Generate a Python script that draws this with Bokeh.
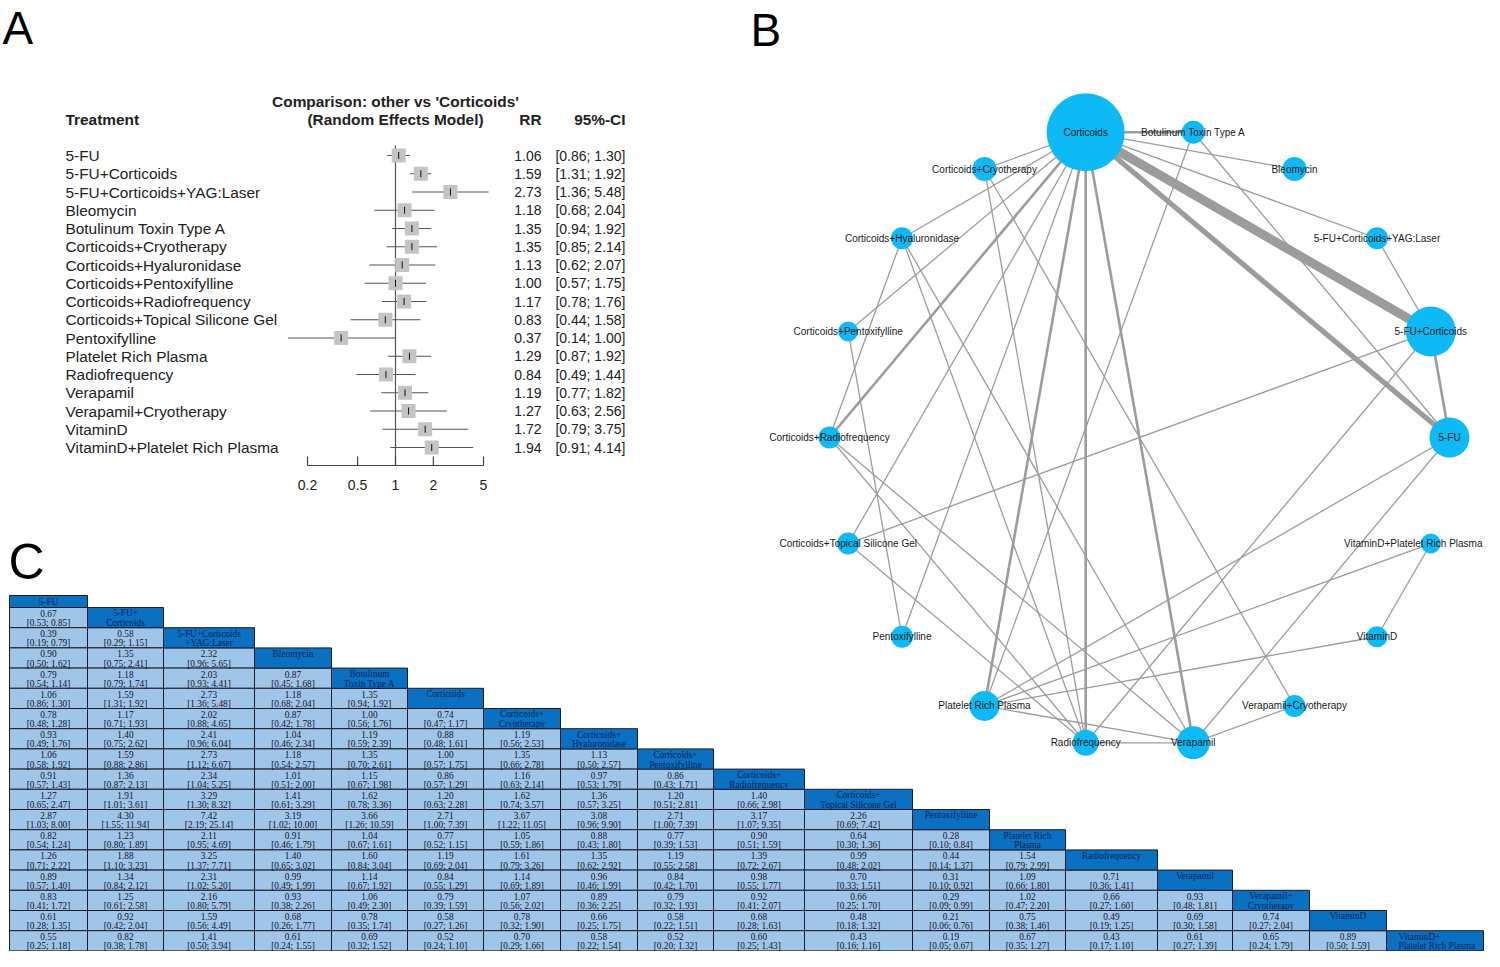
import numpy as np
from bokeh.plotting import figure
from bokeh.models import Range1d, LogScale, ColumnDataSource
from bokeh.embed import file_html
from bokeh.resources import INLINE
from bokeh.core.properties import value

# ---------------- Panel A: forest plot data ----------------
forest_treatments = [
    "5-FU", "5-FU+Corticoids", "5-FU+Corticoids+YAG:Laser", "Bleomycin",
    "Botulinum Toxin Type A", "Corticoids+Cryotherapy", "Corticoids+Hyaluronidase",
    "Corticoids+Pentoxifylline", "Corticoids+Radiofrequency",
    "Corticoids+Topical Silicone Gel", "Pentoxifylline", "Platelet Rich Plasma",
    "Radiofrequency", "Verapamil", "Verapamil+Cryotherapy", "VitaminD",
    "VitaminD+Platelet Rich Plasma"]
forest_rr = [1.06, 1.59, 2.73, 1.18, 1.35, 1.35, 1.13, 1.00, 1.17, 0.83, 0.37, 1.29, 0.84, 1.19, 1.27, 1.72, 1.94]
forest_lo = [0.86, 1.31, 1.36, 0.68, 0.94, 0.85, 0.62, 0.57, 0.78, 0.44, 0.14, 0.87, 0.49, 0.77, 0.63, 0.79, 0.91]
forest_hi = [1.30, 1.92, 5.48, 2.04, 1.92, 2.14, 2.07, 1.75, 1.76, 1.58, 1.00, 1.92, 1.44, 1.82, 2.56, 3.75, 4.14]
forest_ticks = [0.2, 0.5, 1, 2, 5]
forest_tick_labels = ["0.2", "0.5", "1", "2", "5"]

# ---------------- Panel B: network data ----------------
network_nodes = [
    "Corticoids", "Botulinum Toxin Type A", "Bleomycin", "5-FU+Corticoids+YAG:Laser",
    "5-FU+Corticoids", "5-FU", "VitaminD+Platelet Rich Plasma", "VitaminD",
    "Verapamil+Cryotherapy", "Verapamil", "Radiofrequency", "Platelet Rich Plasma",
    "Pentoxifylline", "Corticoids+Topical Silicone Gel", "Corticoids+Radiofrequency",
    "Corticoids+Pentoxifylline", "Corticoids+Hyaluronidase", "Corticoids+Cryotherapy"]
node_radius = [39, 11.5, 12, 11, 25, 20, 10, 10.5, 11, 16.5, 13, 15, 11, 11, 11, 10, 11, 12]
edge_from = [
    "Corticoids", "Corticoids", "Corticoids", "Corticoids", "Corticoids", "Corticoids",
    "Corticoids", "Corticoids", "Corticoids", "Corticoids", "Corticoids", "Corticoids",
    "Corticoids", "Corticoids",
    "5-FU+Corticoids", "5-FU+Corticoids", "5-FU+Corticoids", "5-FU+Corticoids",
    "5-FU", "5-FU", "5-FU", "Botulinum Toxin Type A",
    "VitaminD+Platelet Rich Plasma", "VitaminD+Platelet Rich Plasma", "VitaminD",
    "Verapamil+Cryotherapy", "Verapamil+Cryotherapy",
    "Verapamil", "Verapamil", "Verapamil", "Verapamil",
    "Radiofrequency", "Radiofrequency", "Radiofrequency", "Radiofrequency",
    "Corticoids+Hyaluronidase", "Corticoids+Pentoxifylline"]
edge_to = [
    "Botulinum Toxin Type A", "Bleomycin", "5-FU+Corticoids+YAG:Laser", "5-FU+Corticoids",
    "5-FU", "Corticoids+Cryotherapy", "Corticoids+Hyaluronidase", "Corticoids+Pentoxifylline",
    "Corticoids+Radiofrequency", "Corticoids+Topical Silicone Gel", "Pentoxifylline",
    "Platelet Rich Plasma", "Radiofrequency", "Verapamil",
    "5-FU", "5-FU+Corticoids+YAG:Laser", "Corticoids+Topical Silicone Gel", "Radiofrequency",
    "Botulinum Toxin Type A", "Platelet Rich Plasma", "Verapamil", "Platelet Rich Plasma",
    "VitaminD", "Platelet Rich Plasma", "Platelet Rich Plasma",
    "Verapamil", "Corticoids+Cryotherapy",
    "Radiofrequency", "Platelet Rich Plasma", "Corticoids+Radiofrequency", "Corticoids+Hyaluronidase",
    "Corticoids+Cryotherapy", "Corticoids+Hyaluronidase", "Corticoids+Radiofrequency",
    "Corticoids+Topical Silicone Gel",
    "Corticoids+Radiofrequency", "Pentoxifylline"]
edge_studies = [2, 1, 1, 7, 4, 1, 1, 1, 2, 1, 1, 2, 2, 2,
                2, 1, 1, 1,
                1, 1, 1, 1,
                1, 1, 1,
                1, 1,
                1, 1, 1, 1,
                1, 1, 1, 1,
                1, 1]

# ---------------- Panel C: league table data ----------------
league_headers = [
    "5-FU", "5-FU+\nCorticoids", "5-FU+Corticoids\n+YAG:Laser", "Bleomycin",
    "Botulinum\nToxin Type A", "Corticoids", "Corticoids+\nCryotherapy",
    "Corticoids+\nHyaluronidase", "Corticoids+\nPentoxifylline", "Corticoids+\nRadiofrequency",
    "Corticoids+\nTopical Silicone Gel", "Pentoxifylline", "Platelet Rich\nPlasma",
    "Radiofrequency", "Verapamil", "Verapamil+\nCryotherapy", "VitaminD",
    "VitaminD+\nPlatelet Rich Plasma"]
league_est = [
    [],
    [0.67],
    [0.39, 0.58],
    [0.90, 1.35, 2.32],
    [0.79, 1.18, 2.03, 0.87],
    [1.06, 1.59, 2.73, 1.18, 1.35],
    [0.78, 1.17, 2.02, 0.87, 1.00, 0.74],
    [0.93, 1.40, 2.41, 1.04, 1.19, 0.88, 1.19],
    [1.06, 1.59, 2.73, 1.18, 1.35, 1.00, 1.35, 1.13],
    [0.91, 1.36, 2.34, 1.01, 1.15, 0.86, 1.16, 0.97, 0.86],
    [1.27, 1.91, 3.29, 1.41, 1.62, 1.20, 1.62, 1.36, 1.20, 1.40],
    [2.87, 4.30, 7.42, 3.19, 3.66, 2.71, 3.67, 3.08, 2.71, 3.17, 2.26],
    [0.82, 1.23, 2.11, 0.91, 1.04, 0.77, 1.05, 0.88, 0.77, 0.90, 0.64, 0.28],
    [1.26, 1.88, 3.25, 1.40, 1.60, 1.19, 1.61, 1.35, 1.19, 1.39, 0.99, 0.44, 1.54],
    [0.89, 1.34, 2.31, 0.99, 1.14, 0.84, 1.14, 0.96, 0.84, 0.98, 0.70, 0.31, 1.09, 0.71],
    [0.83, 1.25, 2.16, 0.93, 1.06, 0.79, 1.07, 0.89, 0.79, 0.92, 0.66, 0.29, 1.02, 0.66, 0.93],
    [0.61, 0.92, 1.59, 0.68, 0.78, 0.58, 0.78, 0.66, 0.58, 0.68, 0.48, 0.21, 0.75, 0.49, 0.69, 0.74],
    [0.55, 0.82, 1.41, 0.61, 0.69, 0.52, 0.70, 0.58, 0.52, 0.60, 0.43, 0.19, 0.67, 0.43, 0.61, 0.65, 0.89]]
league_lo = [
    [],
    [0.53],
    [0.19, 0.29],
    [0.50, 0.75, 0.96],
    [0.54, 0.79, 0.93, 0.45],
    [0.86, 1.31, 1.36, 0.68, 0.94],
    [0.48, 0.71, 0.88, 0.42, 0.56, 0.47],
    [0.49, 0.75, 0.96, 0.46, 0.59, 0.48, 0.56],
    [0.58, 0.88, 1.12, 0.54, 0.70, 0.57, 0.66, 0.50],
    [0.57, 0.87, 1.04, 0.51, 0.67, 0.57, 0.63, 0.53, 0.43],
    [0.65, 1.01, 1.30, 0.61, 0.78, 0.63, 0.74, 0.57, 0.51, 0.66],
    [1.03, 1.55, 2.19, 1.02, 1.26, 1.00, 1.22, 0.96, 1.00, 1.07, 0.69],
    [0.54, 0.80, 0.95, 0.46, 0.67, 0.52, 0.59, 0.43, 0.39, 0.51, 0.30, 0.10],
    [0.71, 1.10, 1.37, 0.65, 0.84, 0.69, 0.79, 0.62, 0.55, 0.72, 0.48, 0.14, 0.79],
    [0.57, 0.84, 1.02, 0.49, 0.67, 0.55, 0.69, 0.46, 0.42, 0.55, 0.33, 0.10, 0.66, 0.36],
    [0.41, 0.61, 0.80, 0.38, 0.49, 0.39, 0.56, 0.36, 0.32, 0.41, 0.25, 0.09, 0.47, 0.27, 0.48],
    [0.28, 0.42, 0.56, 0.26, 0.35, 0.27, 0.32, 0.25, 0.22, 0.28, 0.18, 0.06, 0.38, 0.19, 0.30, 0.27],
    [0.25, 0.38, 0.50, 0.24, 0.32, 0.24, 0.29, 0.22, 0.20, 0.25, 0.16, 0.05, 0.35, 0.17, 0.27, 0.24, 0.50]]
league_hi = [
    [],
    [0.85],
    [0.79, 1.15],
    [1.62, 2.41, 5.65],
    [1.14, 1.74, 4.41, 1.68],
    [1.30, 1.92, 5.48, 2.04, 1.92],
    [1.28, 1.93, 4.65, 1.78, 1.76, 1.17],
    [1.76, 2.62, 6.04, 2.34, 2.39, 1.61, 2.53],
    [1.92, 2.86, 6.67, 2.57, 2.61, 1.75, 2.78, 2.57],
    [1.43, 2.13, 5.25, 2.00, 1.98, 1.29, 2.14, 1.79, 1.71],
    [2.47, 3.61, 8.32, 3.29, 3.36, 2.28, 3.57, 3.25, 2.81, 2.98],
    [8.00, 11.94, 25.14, 10.00, 10.59, 7.39, 11.05, 9.90, 7.39, 9.35, 7.42],
    [1.24, 1.89, 4.69, 1.79, 1.61, 1.15, 1.86, 1.80, 1.53, 1.59, 1.36, 0.84],
    [2.22, 3.23, 7.71, 3.02, 3.04, 2.04, 3.26, 2.92, 2.58, 2.67, 2.02, 1.37, 2.99],
    [1.40, 2.12, 5.20, 1.99, 1.92, 1.29, 1.89, 1.99, 1.70, 1.77, 1.51, 0.92, 1.80, 1.41],
    [1.72, 2.58, 5.79, 2.26, 2.30, 1.59, 2.02, 2.25, 1.93, 2.07, 1.70, 0.99, 2.20, 1.60, 1.81],
    [1.35, 2.04, 4.49, 1.77, 1.74, 1.26, 1.90, 1.75, 1.51, 1.63, 1.32, 0.76, 1.46, 1.25, 1.58, 2.04],
    [1.18, 1.78, 3.94, 1.55, 1.52, 1.10, 1.66, 1.54, 1.32, 1.43, 1.16, 0.67, 1.27, 1.10, 1.39, 1.79, 1.59]]

# ---------------- figure (pixel-like space) ----------------
FW, FH = 1484, 951
SANS = value("Liberation Sans")
SERIF = value("Liberation Serif")

p = figure(width=FW, height=FH, x_range=Range1d(0, FW), y_range=Range1d(FH, 0),
           x_axis_type=None, y_axis_type=None, toolbar_location=None,
           output_backend="svg", min_border=0)
p.outline_line_color = None
p.grid.visible = False

# panel letters
p.text(x=[2, 750], y=[1, 3], text=["A", "B"], text_font=SANS,
       text_font_size="46px", text_color="black", text_baseline="top")
p.text(x=[8], y=[561], text=["C"], text_font=SANS,
       text_font_size="50px", text_color="black", text_baseline="alphabetic")

# ---------------- Panel A ----------------
X_AT_02, X_AT_5 = 307.0, 483.0
b = (np.log10(5) - np.log10(0.2)) / (X_AT_5 - X_AT_02)
a = np.log10(0.2) - b * X_AT_02
p.extra_x_ranges = {"rr": Range1d(10 ** a, 10 ** (a + b * FW))}
p.extra_x_scales = {"rr": LogScale()}
ROW0_Y, ROW_STEP = 155.0, 18.25
p.extra_y_ranges = {"row": Range1d((FH - ROW0_Y) / ROW_STEP, (0 - ROW0_Y) / ROW_STEP)}

nrow = len(forest_treatments)
fsrc = ColumnDataSource(dict(
    row=list(range(nrow)), rr=forest_rr, lo=forest_lo, hi=forest_hi,
    label=forest_treatments,
    rrtxt=[f"{v:.2f}" for v in forest_rr],
    citxt=[f"[{l:.2f}; {h:.2f}]" for l, h in zip(forest_lo, forest_hi)]))

AXIS_Y, TICK_TOP, TICK_LABEL_Y, REF_TOP = 465, 456, 484, 145
p.segment(x0=[1], x1=[1], y0=[REF_TOP], y1=[AXIS_Y], x_range_name="rr",
          line_color="#555555", line_width=1.2)
p.segment(x0=[forest_ticks[0]], x1=[forest_ticks[-1]], y0=[AXIS_Y], y1=[AXIS_Y],
          x_range_name="rr", line_color="#444444", line_width=1.2)
p.segment(x0=forest_ticks, x1=forest_ticks, y0=[TICK_TOP] * len(forest_ticks),
          y1=[AXIS_Y] * len(forest_ticks), x_range_name="rr", line_color="#444444", line_width=1.2)
p.text(x=forest_ticks, y=[TICK_LABEL_Y] * len(forest_ticks), text=forest_tick_labels,
       x_range_name="rr", text_align="center", text_baseline="middle", text_font=SANS,
       text_font_size="14px", text_color="#222222")

p.segment(x0="lo", x1="hi", y0="row", y1="row", source=fsrc, x_range_name="rr",
          y_range_name="row", line_color="#555555", line_width=1.1)
p.scatter(x="rr", y="row", source=fsrc, marker="square", size=14, fill_color="#c4c4c4",
          line_color=None, x_range_name="rr", y_range_name="row")
p.scatter(x="rr", y="row", source=fsrc, marker="dash", angle=np.pi / 2, size=7,
          line_color="#111111", line_width=1, x_range_name="rr", y_range_name="row")

p.text(x=65, y="row", text="label", source=fsrc, y_range_name="row", text_baseline="middle",
       text_font=SANS, text_font_size="15.4px", text_color="#222222")
p.text(x=541, y="row", text="rrtxt", source=fsrc, y_range_name="row", text_baseline="middle",
       text_align="right", text_font=SANS, text_font_size="14px", text_color="#222222")
p.text(x=625, y="row", text="citxt", source=fsrc, y_range_name="row", text_baseline="middle",
       text_align="right", text_font=SANS, text_font_size="14px", text_color="#222222")

hdr = dict(text_baseline="middle", text_font=SANS, text_font_size="15.4px",
           text_font_style="bold", text_color="#222222")
p.text(x=[1, 1], y=[101, 119], text=["Comparison: other vs 'Corticoids'", "(Random Effects Model)"],
       x_range_name="rr", text_align="center", **hdr)
p.text(x=[65], y=[119], text=["Treatment"], text_align="left", **hdr)
p.text(x=[541, 625], y=[119, 119], text=["RR", "95%-CI"], text_align="right", **hdr)

# ---------------- Panel B ----------------
NET_CX, NET_CY, NET_R = 1139.0, 437.0, 310.0
ang = np.deg2rad(100 - 20 * np.arange(len(network_nodes)))
node_x = NET_CX + NET_R * np.cos(ang)
node_y = NET_CY - NET_R * np.sin(ang)
idx = {n: i for i, n in enumerate(network_nodes)}
e0 = [idx[n] for n in edge_from]
e1 = [idx[n] for n in edge_to]
esrc = ColumnDataSource(dict(
    x0=node_x[e0], y0=node_y[e0], x1=node_x[e1], y1=node_y[e1],
    w=[1.3 * s for s in edge_studies]))
p.segment(x0="x0", y0="y0", x1="x1", y1="y1", line_width="w", source=esrc,
          line_color="#9c9c9c", line_cap="butt")
# labels are centred on their node; one that would run past the right edge is pulled inside
label_x = list(node_x)
label_align = ["center"] * len(network_nodes)
edge_i = idx["VitaminD+Platelet Rich Plasma"]
label_x[edge_i] = FW - 2
label_align[edge_i] = "right"
nsrc = ColumnDataSource(dict(x=node_x, y=node_y, r=node_radius, name=network_nodes,
                             lx=label_x, al=label_align))
p.circle(x="x", y="y", radius="r", source=nsrc, fill_color="#0dbaf5", line_color=None)
p.text(x="lx", y="y", text="name", source=nsrc, text_align="al", text_baseline="middle",
       text_font=SANS, text_font_size="10px", text_color="#1a1a1a")

# ---------------- Panel C ----------------
COL_W = [78, 76, 91, 77, 76, 76, 77, 77, 76, 91, 108, 77, 76, 92, 75, 77, 77, 97]
TAB_X0, TAB_Y0, HDR0_H, ROW_H = 9, 595, 12, 20.2
col_left = TAB_X0 + np.concatenate([[0], np.cumsum(COL_W)[:-1]])
col_right = col_left + np.array(COL_W)


def row_top(i):
    return TAB_Y0 if i == 0 else TAB_Y0 + HDR0_H + ROW_H * (i - 1)


def row_bottom(i):
    return TAB_Y0 + HDR0_H + ROW_H * i


cl, cr, ct, cb = [], [], [], []
hl, hr, ht, hb = [], [], [], []
tx, ty, tt = [], [], []
htx, hty, htt, hal = [], [], [], []
for i in range(len(league_headers)):
    top, bot = row_top(i), row_bottom(i)
    hl.append(col_left[i]); hr.append(col_right[i]); ht.append(top); hb.append(bot)
    lines = league_headers[i].split("\n")
    left_al = i == len(league_headers) - 1
    xc = col_left[i] + 12 if left_al else (col_left[i] + col_right[i]) / 2
    if i == 0:
        ys = [(top + bot) / 2]
    else:
        ys = [top + 5.8, top + 15.6][:len(lines)]
    for ln, yy in zip(lines, ys):
        htx.append(xc); hty.append(yy); htt.append(ln); hal.append("left" if left_al else "center")
    for j in range(i):
        cl.append(col_left[j]); cr.append(col_right[j]); ct.append(top); cb.append(bot)
        xm = (col_left[j] + col_right[j]) / 2
        tx += [xm, xm]
        ty += [top + 6.0, top + 15.6]
        tt += [f"{league_est[i][j]:.2f}", f"[{league_lo[i][j]:.2f}; {league_hi[i][j]:.2f}]"]

p.quad(left=cl, right=cr, top=ct, bottom=cb, fill_color="#9fc5e8", line_color="#1b1b2b",
       line_width=1)
p.quad(left=hl, right=hr, top=ht, bottom=hb, fill_color="#0a70c2", line_color="#1b1b2b",
       line_width=1)
p.text(x=tx, y=ty, text=tt, text_align="center", text_baseline="middle", text_font=SERIF,
       text_font_size="9.3px", text_color="#14142a")
p.text(x=htx, y=hty, text=htt, text_align=hal, text_baseline="middle", text_font=SERIF,
       text_font_size="9.3px", text_color="#0c2452")

open("out.html", "w").write(file_html(p, INLINE))
